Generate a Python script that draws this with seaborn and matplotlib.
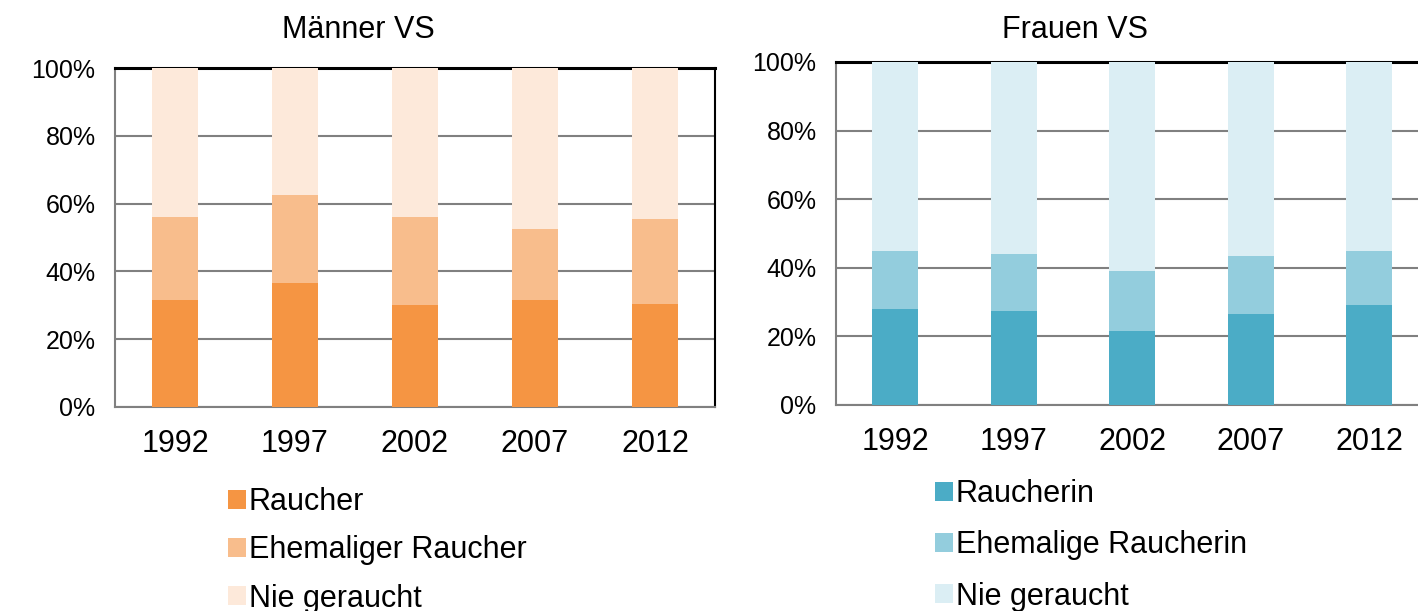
import numpy as np
import pandas as pd
import matplotlib
matplotlib.use("Agg")
import matplotlib.pyplot as plt
from matplotlib.patches import Patch
import seaborn as sns

## Data (percent)
years = ["1992", "1997", "2002", "2007", "2012"]
maenner_raucher = [31.5, 36.5, 30.0, 31.5, 30.5]
maenner_ehemalig = [24.5, 26.0, 26.0, 21.0, 25.0]
frauen_raucherin = [28.0, 27.5, 21.5, 26.5, 29.0]
frauen_ehemalig = [17.0, 16.5, 17.5, 17.0, 16.0]

labels_m = ["Raucher", "Ehemaliger Raucher", "Nie geraucht"]
labels_f = ["Raucherin", "Ehemalige Raucherin", "Nie geraucht"]
colors_m = ["#F59543", "#F8BD8C", "#FDE9DA"]
colors_f = ["#4BACC6", "#93CDDD", "#DBEEF4"]

sns.set_style("white")
plt.rcParams['font.family'] = ['Liberation Sans', 'DejaVu Sans']
plt.rcParams['text.color'] = 'black'
plt.rcParams['xtick.color'] = 'black'
plt.rcParams['ytick.color'] = 'black'


## Stacked bar chart
def stacked(ax, raucher, ehemalig, colors):
    df = pd.DataFrame({"year": years, "r": raucher, "e": ehemalig})
    df["re"] = df["r"] + df["e"]
    df["total"] = 100.0
    # draw from tallest to shortest so layers stack
    for col, c in zip(["total", "re", "r"], colors[::-1]):
        sns.barplot(data=df, x="year", y=col, color=c, width=0.39,
                    saturation=1, ax=ax, zorder=3, linewidth=0,
                    edgecolor="none")
    ax.set_xlim(-0.5, 4.5)
    ax.set_ylim(0, 100)
    ax.set_yticks([0, 20, 40, 60, 80, 100])
    ax.set_yticklabels([f"{v}%" for v in range(0, 101, 20)], fontsize=18)
    ax.set_xticks(range(5))
    ax.set_xticklabels(years, fontsize=22)
    ax.set_xticks(np.arange(-0.5, 5, 1), minor=True)
    ax.tick_params(axis="x", which="major", length=0, pad=16)
    ax.tick_params(axis="x", which="minor", length=6, width=1.5,
                   color="#808080", direction="out")
    ax.tick_params(axis="y", length=6, width=1.5, color="#808080",
                   direction="out", pad=8)
    ax.set_xlabel("")
    ax.set_ylabel("")
    ax.yaxis.grid(True, color="#808080", lw=1.5, zorder=0)
    ax.set_axisbelow(True)
    for s in ["left", "bottom"]:
        ax.spines[s].set_color("#808080")
        ax.spines[s].set_linewidth(1.5)
    ax.spines["top"].set_color("black")
    ax.spines["top"].set_linewidth(2.2)
    ax.spines["right"].set_color("black")
    ax.spines["right"].set_linewidth(1.5)


fig = plt.figure(figsize=(14.18, 6.11), dpi=100)
ax1 = fig.add_axes([0.0811, 0.3339, 0.4231, 0.5548])
ax2 = fig.add_axes([0.5896, 0.3372, 0.4178, 0.5614])

stacked(ax1, maenner_raucher, maenner_ehemalig, colors_m)
stacked(ax2, frauen_raucherin, frauen_ehemalig, colors_f)

fig.text(358 / 1418, 1 - 30 / 611, "Männer VS", fontsize=22,
         ha="center", va="center")
fig.text(1075 / 1418, 1 - 30 / 611, "Frauen VS", fontsize=22,
         ha="center", va="center")

for labels, colors, x, y, ls in [(labels_m, colors_m, 228 / 1418, 1 - 487 / 611, 0.6),
                                 (labels_f, colors_f, 935 / 1418, 1 - 479 / 611, 0.7)]:
    handles = [Patch(facecolor=c, edgecolor="none") for c in colors]
    fig.legend(handles, labels, loc="upper left", bbox_to_anchor=(x, y),
               frameon=False, fontsize=22, handlelength=0.58, handleheight=0.58,
               handletextpad=0.1, labelspacing=ls, borderpad=0,
               borderaxespad=0)

plt.savefig("out.png", dpi=100)
